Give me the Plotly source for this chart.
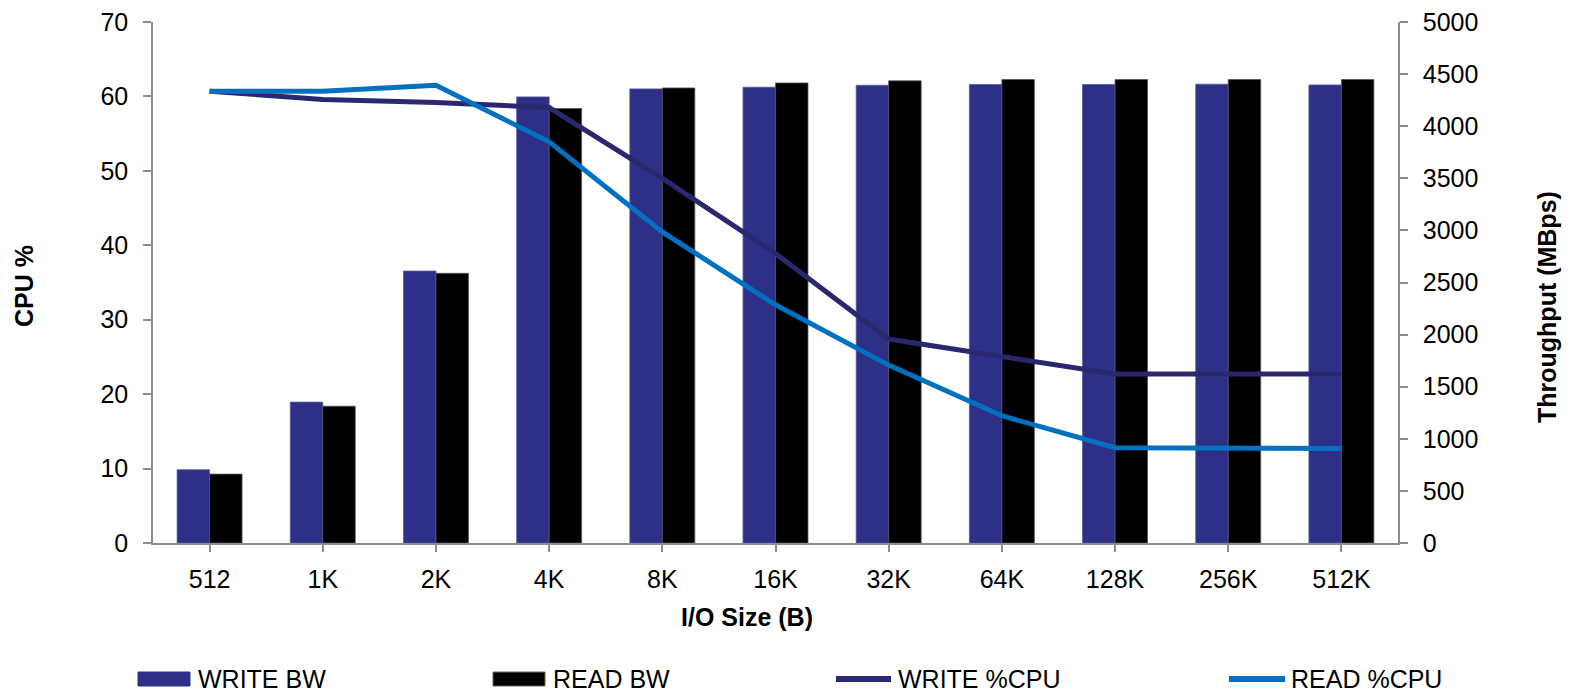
import plotly.graph_objects as go

# I/O sizes and measured results
io_sizes = ["512", "1K", "2K", "4K", "8K", "16K", "32K", "64K", "128K", "256K", "512K"]
write_bw = [703, 1352, 2610, 4281, 4358, 4374, 4393, 4400, 4400, 4403, 4396]
read_bw = [661, 1313, 2588, 4170, 4367, 4415, 4435, 4448, 4448, 4448, 4448]
write_cpu = [60.7, 59.6, 59.2, 58.5, 49.0, 38.9, 27.4, 25.0, 22.7, 22.7, 22.7]
read_cpu = [60.7, 60.7, 61.5, 53.9, 41.8, 32.0, 23.9, 17.1, 12.8, 12.7, 12.7]

W, H = 1571, 693
L, R, T, B = 153, 173, 22, 150
FONT = "Arial, Liberation Sans, sans-serif"
FS = 25
AXIS_GRAY = "#8c8c8c"

C_WRITE_BW = "#2E3087"
C_READ_BW = "#000000"
C_WRITE_CPU = "#29286F"
C_READ_CPU = "#0070C0"


def px(x):
    return (x - L) / (W - L - R)


def py(y):
    return (H - B - y) / (H - T - B)


fig = go.Figure()

fig.add_trace(go.Bar(x=io_sizes, y=write_bw, name="WRITE BW", yaxis="y",
                     marker=dict(color=C_WRITE_BW, line=dict(color="#5557A6", width=0.8))))
fig.add_trace(go.Bar(x=io_sizes, y=read_bw, name="READ BW", yaxis="y",
                     marker=dict(color=C_READ_BW, line=dict(color="#555555", width=0.8))))
fig.add_trace(go.Scatter(x=io_sizes, y=write_cpu, name="WRITE %CPU", yaxis="y2",
                         mode="lines", line=dict(color=C_WRITE_CPU, width=5)))
fig.add_trace(go.Scatter(x=io_sizes, y=read_cpu, name="READ %CPU", yaxis="y2",
                         mode="lines", line=dict(color=C_READ_CPU, width=5)))

tickfont = dict(family=FONT, size=FS, color="#000000")

fig.update_layout(
    width=W, height=H,
    margin=dict(l=L, r=R, t=T, b=B, pad=0, autoexpand=False),
    paper_bgcolor="white", plot_bgcolor="white",
    showlegend=False,
    barmode="group", bargap=0.426, bargroupgap=0,
    font=dict(family=FONT, size=FS, color="#000000"),
    xaxis=dict(
        type="category", showgrid=False, zeroline=False, automargin=False,
        showline=True, linecolor=AXIS_GRAY, linewidth=1.5,
        ticks="outside", ticklen=7, tickcolor=AXIS_GRAY, tickwidth=1.5,
        tickfont=tickfont, ticklabelstandoff=6,
    ),
    yaxis=dict(
        side="right", range=[0, 5000], dtick=500, automargin=False,
        showgrid=False, zeroline=False,
        showline=True, linecolor=AXIS_GRAY, linewidth=1.5,
        ticks="outside", ticklen=8, tickcolor=AXIS_GRAY, tickwidth=1.5,
        tickfont=tickfont, ticklabelstandoff=10,
    ),
    yaxis2=dict(
        overlaying="y", side="left", range=[0, 70], dtick=10, automargin=False,
        showgrid=False, zeroline=False,
        showline=True, linecolor=AXIS_GRAY, linewidth=1.5,
        ticks="outside", ticklen=8, tickcolor=AXIS_GRAY, tickwidth=1.5,
        tickfont=tickfont, ticklabelstandoff=10,
    ),
)

annotations = [
    dict(text="<b>I/O Size (B)</b>", x=px(747), y=py(617)),
    dict(text="<b>CPU %</b>", x=px(24), y=py(286), textangle=-90),
    dict(text="<b>Throughput (MBps)</b>", x=px(1547), y=py(307), textangle=-90),
]
for a in annotations:
    a.update(xref="paper", yref="paper", showarrow=False,
             xanchor="center", yanchor="middle",
             font=dict(family=FONT, size=FS, color="#000000"))

# Legend row drawn below the axis title
shapes = []
leg_y = 679
legend_items = [
    ("rect", C_WRITE_BW, 138, 190, 196, "WRITE BW"),
    ("rect", C_READ_BW, 493, 545, 551, "READ BW"),
    ("line", C_WRITE_CPU, 836, 891, 896, "WRITE %CPU"),
    ("line", C_READ_CPU, 1229, 1285, 1289, "READ %CPU"),
]
for kind, color, x0, x1, tx, label in legend_items:
    if kind == "rect":
        shapes.append(dict(type="rect", xref="paper", yref="paper",
                           x0=px(x0), x1=px(x1), y0=py(leg_y + 7), y1=py(leg_y - 7),
                           fillcolor=color, line=dict(color="#666666" if color == "#000000" else color, width=1)))
    else:
        shapes.append(dict(type="line", xref="paper", yref="paper",
                           x0=px(x0), x1=px(x1), y0=py(leg_y), y1=py(leg_y),
                           line=dict(color=color, width=6)))
    annotations.append(dict(text=label, xref="paper", yref="paper",
                            x=px(tx), y=py(leg_y), showarrow=False,
                            xanchor="left", yanchor="middle",
                            font=dict(family=FONT, size=FS, color="#000000")))

fig.update_layout(annotations=annotations, shapes=shapes)

fig.write_html("out.html")
